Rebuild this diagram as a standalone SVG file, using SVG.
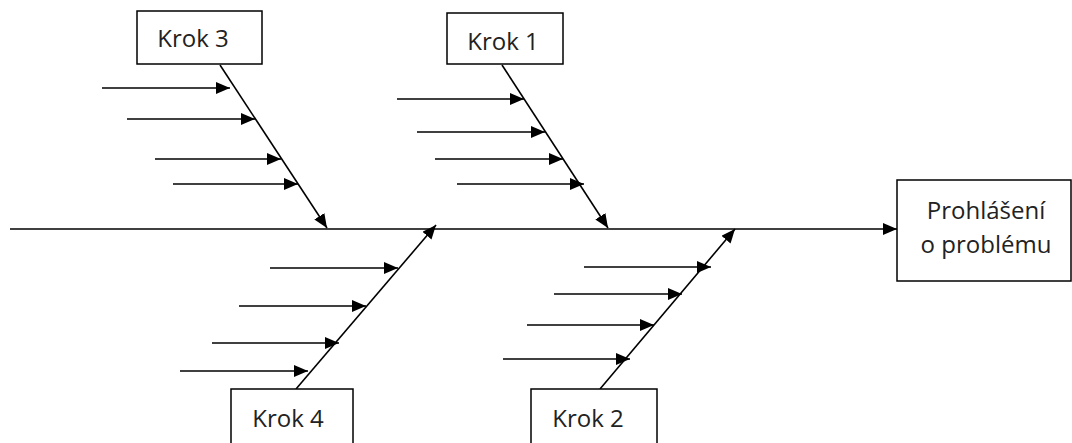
<svg xmlns="http://www.w3.org/2000/svg" width="1072" height="443" viewBox="0 0 1072 443">
  <style>
    .box { fill: #ffffff; stroke: #000000; stroke-width: 1.5; }
    .lbl { font-family: "Open Sans", "Liberation Sans", sans-serif; font-size: 24px; fill: #222222; text-anchor: middle; }
    .ln { stroke: #000000; stroke-width: 1.6; fill: none; marker-end: url(#head); }
  </style>
  <defs>
    <marker id="head" markerUnits="userSpaceOnUse" markerWidth="15" markerHeight="13" refX="14" refY="6" orient="auto">
      <path d="M0,0 L14,6 L0,12 Z" fill="#000000"/>
    </marker>
  </defs>
  <rect width="1072" height="443" fill="#ffffff"/>

  <g id="connectors">
    <!-- spine -->
    <line class="ln" x1="10" y1="229" x2="897" y2="229"/>
    <!-- Krok 3 bone and causes -->
    <line class="ln" x1="220" y1="65" x2="327" y2="228"/>
    <line class="ln" x1="102" y1="88" x2="230" y2="88"/>
    <line class="ln" x1="127" y1="119" x2="255" y2="119"/>
    <line class="ln" x1="155" y1="159" x2="281" y2="159"/>
    <line class="ln" x1="173" y1="184" x2="298" y2="184"/>
    <!-- Krok 1 bone and causes -->
    <line class="ln" x1="502" y1="65" x2="608" y2="228"/>
    <line class="ln" x1="397" y1="99" x2="524" y2="99"/>
    <line class="ln" x1="417" y1="132" x2="545" y2="132"/>
    <line class="ln" x1="435" y1="159" x2="563" y2="159"/>
    <line class="ln" x1="457" y1="184" x2="584" y2="184"/>
    <!-- Krok 4 bone and causes -->
    <line class="ln" x1="296" y1="389" x2="436" y2="225"/>
    <line class="ln" x1="270" y1="268" x2="398" y2="268"/>
    <line class="ln" x1="239" y1="306" x2="366" y2="306"/>
    <line class="ln" x1="212" y1="343" x2="339" y2="343"/>
    <line class="ln" x1="180" y1="371" x2="308" y2="371"/>
    <!-- Krok 2 bone and causes -->
    <line class="ln" x1="600" y1="389" x2="735" y2="229"/>
    <line class="ln" x1="584" y1="267" x2="711" y2="267"/>
    <line class="ln" x1="554" y1="294" x2="682" y2="294"/>
    <line class="ln" x1="527" y1="325" x2="654" y2="325"/>
    <line class="ln" x1="503" y1="359" x2="630" y2="359"/>
  </g>

  <g id="krok3">
    <rect class="box" x="137" y="11" width="125" height="53"/>
    <text class="lbl" x="193" y="47">Krok 3</text>
  </g>
  <g id="krok1">
    <rect class="box" x="447" y="13" width="116" height="51"/>
    <text class="lbl" x="503" y="50">Krok 1</text>
  </g>
  <g id="krok4">
    <rect class="box" x="231" y="389" width="122" height="60"/>
    <text class="lbl" x="288" y="427">Krok 4</text>
  </g>
  <g id="krok2">
    <rect class="box" x="531" y="389" width="126" height="60"/>
    <text class="lbl" x="588" y="427">Krok 2</text>
  </g>
  <g id="problem">
    <rect class="box" x="897" y="180" width="174" height="101"/>
    <text class="lbl" x="986" y="219">Prohlášení</text>
    <text class="lbl" x="986" y="253">o problému</text>
  </g>
</svg>
